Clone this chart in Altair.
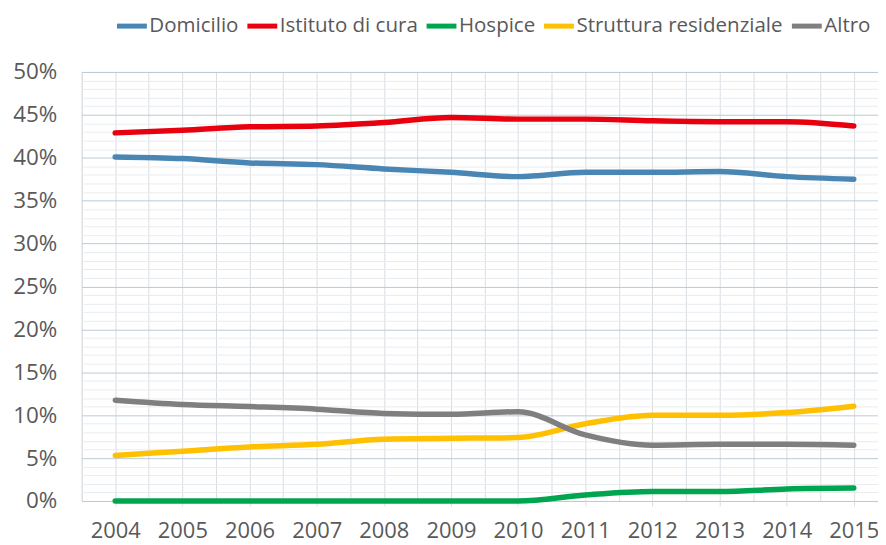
import altair as alt
import pandas as pd

years = list(range(2004, 2016))
domicilio = [40.1, 39.9, 39.4, 39.2, 38.7, 38.3, 37.8, 38.3, 38.3, 38.4, 37.8, 37.5]
istituto = [42.9, 43.2, 43.6, 43.7, 44.1, 44.7, 44.5, 44.5, 44.3, 44.2, 44.2, 43.7]
hospice = [0.0, 0.0, 0.0, 0.0, 0.0, 0.0, 0.0, 0.7, 1.1, 1.1, 1.4, 1.5]
struttura = [5.3, 5.8, 6.3, 6.6, 7.2, 7.3, 7.4, 9.0, 10.0, 10.0, 10.3, 11.05]
altro = [11.75, 11.25, 11.0, 10.7, 10.2, 10.1, 10.4, 7.7, 6.5, 6.6, 6.6, 6.5]

series_names = ["Domicilio", "Istituto di cura", "Hospice", "Struttura residenziale", "Altro"]
series_colors = ["#4A86B4", "#E8000E", "#00A550", "#FFC000", "#7F7F7F"]
y_ticks = list(range(0, 51))
x_grid = [2003.5 + 0.5 * i for i in range(24)]

rows = []
for name, vals in zip(series_names, [domicilio, istituto, hospice, struttura, altro]):
    for yr, v in zip(years, vals):
        rows.append({"Anno": yr, "Valore": v, "Serie": name, "ordine": series_names.index(name)})
df = pd.DataFrame(rows)

FONT = "Open Sans"
LABEL = "#595959"
PLOT_W = 800

chart = alt.Chart(df).mark_line(
    strokeWidth=5.5, interpolate="monotone", strokeCap="round", strokeJoin="round"
).encode(
    x=alt.X(
        "Anno:Q",
        scale=alt.Scale(domain=[2003.5, 2003.5 + PLOT_W / 67.45], nice=False, zero=False),
        axis=alt.Axis(
            values=x_grid,
            labelExpr="datum.value % 1 == 0 ? format(datum.value, 'd') : ''",
            title=None,
            domain=False,
            gridColor="#D9DEE3",
            gridWidth=1,
            tickColor="#D9DEE3",
            tickSize=5,
            tickOpacity={"condition": {"test": "datum.value % 1 != 0", "value": 0}, "value": 1},
            labelFontSize=22,
            labelFont=FONT,
            labelColor=LABEL,
            labelPadding=15,
            labelOverlap=False,
            labelFlush=False,
        ),
    ),
    y=alt.Y(
        "Valore:Q",
        scale=alt.Scale(domain=[0, 50], nice=False),
        axis=alt.Axis(
            values=y_ticks,
            labelExpr="datum.value % 5 == 0 ? datum.value + '%' : ''",
            title=None,
            domain=False,
            ticks=False,
            gridColor={"condition": {"test": "datum.value % 5 == 0", "value": "#B9CBD7"}, "value": "#E9ECEF"},
            gridWidth=1,
            labelFontSize=22.5,
            labelFont=FONT,
            labelColor=LABEL,
            labelPadding=25,
            labelOverlap=False,
            labelFlush=False,
        ),
    ),
    color=alt.Color(
        "Serie:N",
        scale=alt.Scale(domain=series_names, range=series_colors),
        legend=alt.Legend(
            orient="none",
            legendX=33,
            legendY=-64,
            direction="horizontal",
            title=None,
            symbolType="stroke",
            symbolSize=900,
            symbolStrokeWidth=5,
            labelFontSize=20.6,
            labelFont=FONT,
            labelColor=LABEL,
            labelOffset=0,
            columnPadding=-2,
            labelLimit=0,
        ),
    ),
    order=alt.Order("ordine:Q"),
    detail="Serie:N",
).properties(
    width=PLOT_W,
    height=431,
    autosize="none",
    padding={"left": 74, "top": 63, "right": 0, "bottom": 43},
).configure_view(stroke=None).configure(background="white")

chart.save("out.html", embed_options={"renderer": "svg", "actions": False})
